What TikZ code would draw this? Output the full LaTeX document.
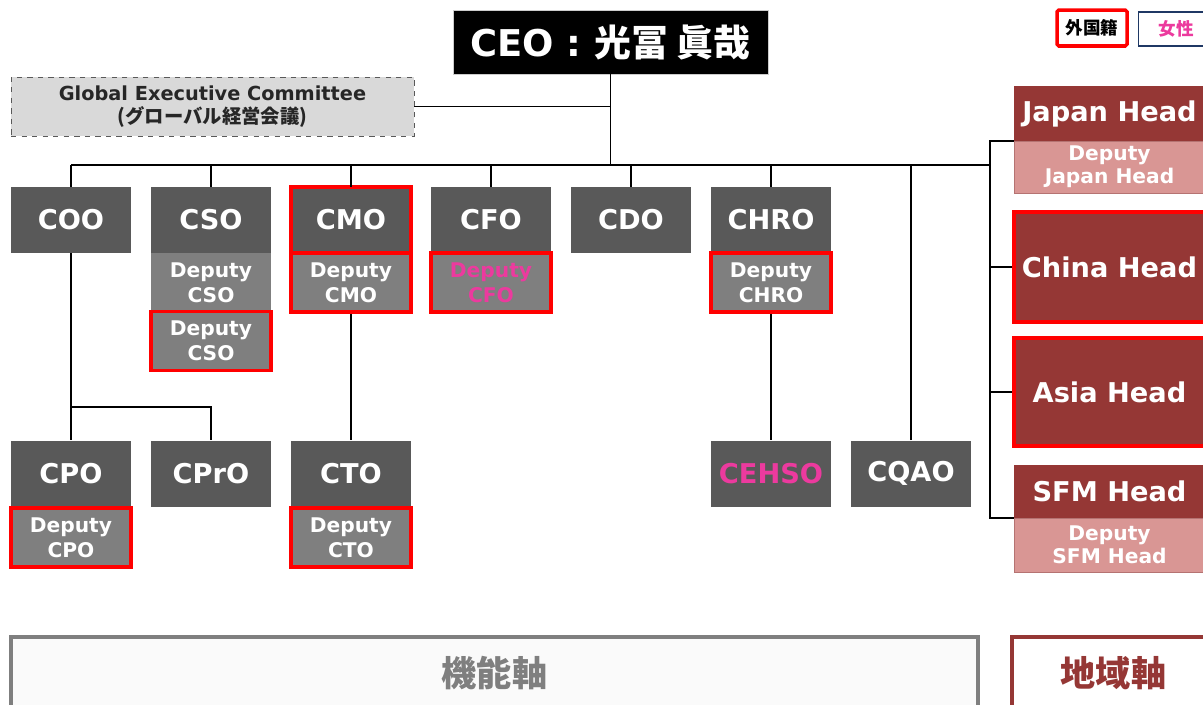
\documentclass[tikz,border=0pt]{standalone}
\usepackage{fontspec}
\setmainfont{DejaVu Sans}
\newfontfamily\jp{Noto Sans CJK JP}
\definecolor{boxgrey}{HTML}{595959}
\definecolor{depgrey}{HTML}{7F7F7F}
\definecolor{regred}{HTML}{953735}
\definecolor{regpink}{HTML}{D99694}
\definecolor{femalepink}{HTML}{EC3A9E}
\definecolor{legnavy}{HTML}{1F3864}
\begin{document}
\begin{tikzpicture}[x=0.02cm, y=-0.02cm,
    headbox/.style={fill=boxgrey, text=white, minimum width=2.4cm, minimum height=1.32cm, inner sep=0pt,
      font=\fontsize{15.5}{18}\selectfont\bfseries},
    depbox/.style={fill=depgrey, text=white, minimum width=2.4cm, minimum height=1.18cm, inner sep=0pt, align=center,
      font=\fontsize{11.5}{14}\selectfont\bfseries},
    regbox/.style={fill=regred, text=white, minimum width=3.82cm, inner sep=0pt,
      font=\fontsize{15.5}{18}\selectfont\bfseries},
    regdep/.style={fill=regpink, draw=regred!70, text=white, minimum width=3.82cm, inner sep=0pt, align=center,
      font=\fontsize{11.5}{13}\selectfont\bfseries},
    foreign/.style={draw=red, line width=2.2pt},
    female/.style={text=femalepink},
    link/.style={draw=black, line width=1pt}]
  \useasboundingbox (0,0) rectangle (1203,704);
  \clip (0,0) rectangle (1203,704);

  % top
  \node[fill=black, draw=black!20, text=white, minimum width=6.3cm, minimum height=1.28cm,
    font=\fontsize{21}{24}\selectfont\bfseries] (ceo) at (610.5,42) {CEO : {\jp 光冨 眞哉}};
  \node[fill=black!15, draw=boxgrey, dashed, minimum width=8.06cm, minimum height=1.18cm, align=center,
    text=black!85, font=\fontsize{11}{13.5}\selectfont\bfseries] (gec) at (212.5,106.5)
    {Global Executive Committee\\{\jp (グローバル経営会議)}};

  % legend
  \node[draw=red, line width=2pt, rounded corners=1pt, minimum width=1.4cm, minimum height=0.72cm,
    font=\jp\fontsize{10}{12}\selectfont\bfseries] (legf) at (1092,28) {外国籍};
  \node[draw=legnavy, line width=0.6pt, minimum width=1.5cm, minimum height=0.68cm, female,
    font=\jp\fontsize{10}{12}\selectfont\bfseries] (legw) at (1176,29) {女性};

  % functional heads
  \foreach \nm/\lbl/\x in {coo/COO/71, cso/CSO/211, cmo/CMO/351, cfo/CFO/491, cdo/CDO/631, chro/CHRO/771}
    \node[headbox] (\nm) at (\x,220) {\lbl};
  \node[depbox] (dcso) at (211,282.5) {Deputy\\CSO};
  \node[depbox, foreign] (dcso2) at (211,341) {Deputy\\CSO};
  \node[depbox, foreign] (dcmo) at (351,282.5) {Deputy\\CMO};
  \node[depbox, foreign, female] (dcfo) at (491,282.5) {Deputy\\CFO};
  \node[depbox, foreign] (dchro) at (771,282.5) {Deputy\\CHRO};
  \draw[foreign] (cmo.north west) rectangle (cmo.south east);

  \node[headbox] (cpo) at (71,473.5) {CPO};
  \node[headbox] (cpro) at (211,473.5) {CPrO};
  \node[headbox] (cto) at (351,473.5) {CTO};
  \node[headbox, female] (cehso) at (771,473.5) {CEHSO};
  \node[headbox] (cqao) at (911,473.5) {CQAO};
  \node[depbox, foreign] (dcpo) at (71,537.5) {Deputy\\CPO};
  \node[depbox, foreign] (dcto) at (351,537.5) {Deputy\\CTO};

  % regional heads
  \node[regbox, minimum height=1.1cm] (jph) at (1109.5,113.5) {Japan Head};
  \node[regdep, minimum height=1.04cm] (djph) at (1109.5,167) {Deputy\\Japan Head};
  \node[regbox, foreign, minimum height=2.2cm] (cnh) at (1109.5,267) {China Head};
  \node[regbox, foreign, minimum height=2.16cm] (ash) at (1109.5,392) {Asia Head};
  \node[regbox, minimum height=1.06cm] (sfmh) at (1109.5,491.5) {SFM Head};
  \node[regdep, minimum height=1.08cm] (dsfmh) at (1109.5,545) {Deputy\\SFM Head};

  % axes
  \node[draw=depgrey, line width=2.6pt, fill=black!2, minimum width=19.34cm, minimum height=1.44cm,
    text=depgrey, font=\jp\fontsize{20}{24}\selectfont\bfseries] (faxis) at (494.5,673) {機能軸};
  \node[draw=regred, line width=2.6pt, fill=white, minimum width=4.06cm, minimum height=1.44cm,
    text=regred, font=\jp\fontsize{20}{24}\selectfont\bfseries] (raxis) at (1113.5,673) {地域軸};

  % connectors
  \coordinate (busL) at (71,165);
  \coordinate (busR) at (990,165);
  \coordinate (split) at (71,407);
  \draw[link] (busL) -- (busR);
  \draw[link] (ceo.south) -- (ceo.south |- busL);
  \draw[link] (gec.east) -- (gec.east -| ceo.south);
  \foreach \nm in {coo, cso, cmo, cfo, cdo, chro, cqao}
    \draw[link] (\nm.north) -- (\nm.north |- busL);
  \draw[link] (coo.south) -- (cpo.north);
  \draw[link] (split) -| (cpro.north);
  \draw[link] (dcmo.south) -- (cto.north);
  \draw[link] (dchro.south) -- (cehso.north);
  \draw[link] (jph.south west) -- (jph.south west -| busR) -- (sfmh.south west -| busR) -- (sfmh.south west);
  \draw[link] (cnh.west) -- (cnh.west -| busR);
  \draw[link] (ash.west) -- (ash.west -| busR);
\end{tikzpicture}
\end{document}
